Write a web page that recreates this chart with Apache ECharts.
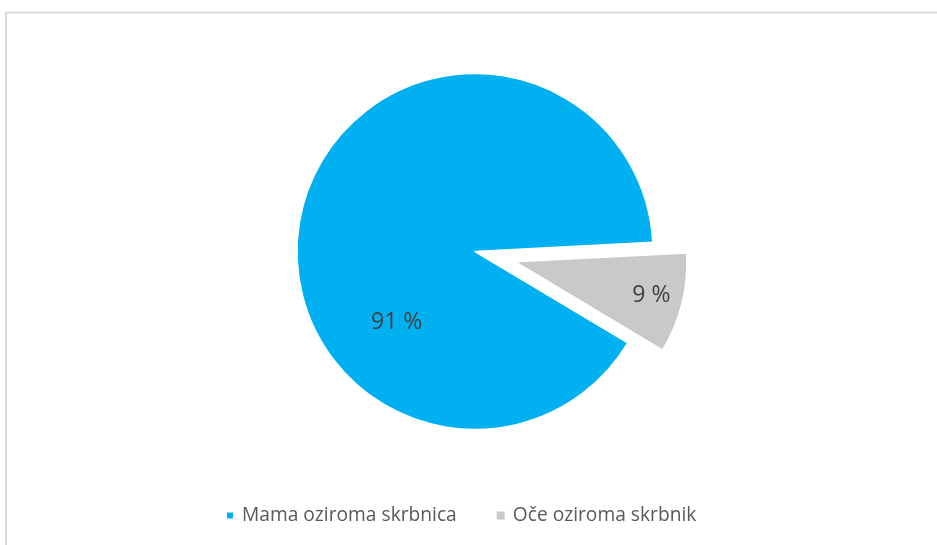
<!DOCTYPE html>
<html>
<head>
<meta charset="utf-8">
<script src="https://cdn.jsdelivr.net/npm/echarts@6/dist/echarts.min.js"></script>
<style>
  html, body { margin: 0; padding: 0; background: #fff; }
  #chart { width: 937px; height: 545px; }
</style>
</head>
<body>
<div id="chart"></div>
<script>
  // podatki
  var categories = ['Mama oziroma skrbnica', 'Oče oziroma skrbnik'];
  var values = [90.6, 9.4];
  var colors = ['#00b0f0', '#c9c9c9'];

  var myChart = echarts.init(document.getElementById('chart'));

  // one series per visible slice, so the exploded grey slice can sit off-centre
  function sliceData(show) {
    return categories.map(function (name, i) {
      return {
        name: name,
        value: values[i],
        itemStyle: {color: i === show ? colors[i] : 'rgba(0,0,0,0)', borderColor: i === show ? '#fff' : 'rgba(0,0,0,0)'},
        label: {show: i === show}
      };
    });
  }

  var baseLabel = {
    position: 'inside',
    fontFamily: 'Open Sans',
    fontSize: 23,
    color: '#404040',
    formatter: function (p) { return Math.round(p.value) + ' %'; }
  };

  myChart.setOption({
    animation: false,
    graphic: [{
      type: 'rect',
      shape: {x: 6, y: 12.5, width: 2000, height: 2000},
      style: {fill: 'none', stroke: '#d9d9d9', lineWidth: 2},
      silent: true
    }],
    legend: {
      data: categories.map(function (name, i) {
        return {name: name, itemStyle: {color: colors[i]}};
      }),
      left: 225,
      top: 506,
      padding: 0,
      icon: 'rect',
      itemWidth: 8,
      itemHeight: 8,
      itemGap: 39,
      textStyle: {fontFamily: 'Open Sans', fontSize: 19.2, color: '#595959', padding: [0, 0, 0, 3]}
    },
    series: [
      {
        type: 'pie',
        center: [475, 251.5],
        radius: 178,
        startAngle: -30.9,
        clockwise: true,
        silent: true,
        itemStyle: {borderWidth: 1.5},
        label: baseLabel,
        labelLine: {show: false},
        labelLayout: {dx: 11, dy: 93},
        data: sliceData(0)
      },
      {
        type: 'pie',
        center: [515, 261.7],
        radius: 172,
        startAngle: -30.9,
        clockwise: true,
        silent: true,
        itemStyle: {borderWidth: 1.5},
        label: baseLabel,
        labelLine: {show: false},
        labelLayout: {dx: 50, dy: 12},
        data: sliceData(1)
      }
    ]
  });
</script>
</body>
</html>
